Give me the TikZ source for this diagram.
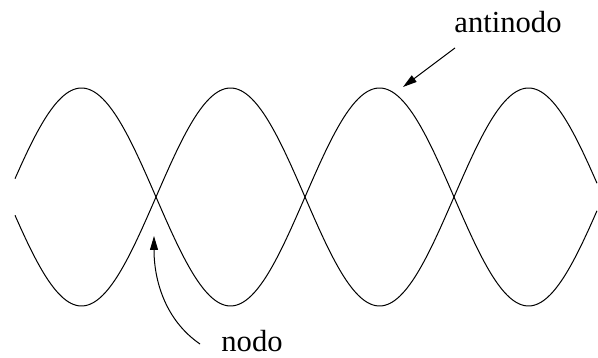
\documentclass[tikz,border=0pt]{standalone}
\usepackage{fontspec}
\setmainfont{Liberation Serif}
\usetikzlibrary{arrows.meta}
\tikzset{
  wave/.style={line width=1pt, black},
  pointer/.style={line width=1pt, -{Triangle[length=14pt,width=8pt]}},
  lbl/.style={font=\fontsize{30.6}{36}\selectfont, inner sep=0pt, anchor=base}
}
\begin{document}
\begin{tikzpicture}[x=1pt,y=-1pt]
\useasboundingbox (0,0) rectangle (598,358);
\draw[wave] plot[domain=15:597, samples=240, smooth] (\x, {197-109*sin((\x-7)/149*180)});
\draw[wave] plot[domain=15:597, samples=240, smooth] (\x, {197+109*sin((\x-7)/149*180)});
\node[lbl] (anti) at (508,33) {antinodo};
\node[lbl] (nodo) at (252,352) {nodo};
\coordinate (antistart) at (455,48);
\coordinate (antitip) at (403,87);
\coordinate (nodostart) at (200,344);
\coordinate (nodotip) at (154,236);
\draw[pointer] (antistart) -- (antitip);
\draw[pointer] (nodostart) .. controls (165,320) and (154,280) .. (nodotip);
\end{tikzpicture}
\end{document}
